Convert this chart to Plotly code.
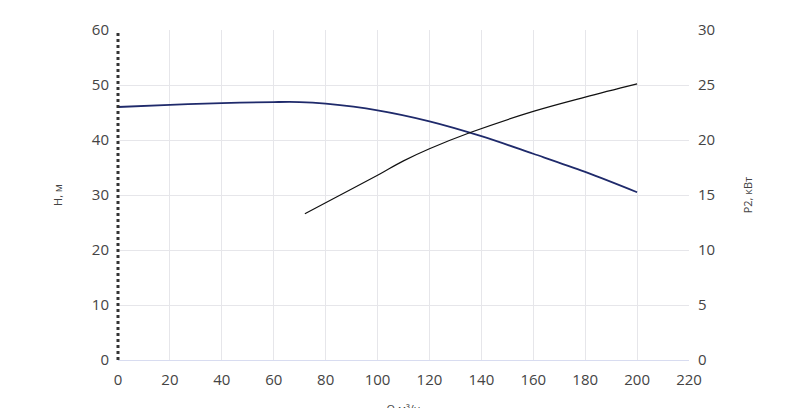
import plotly.graph_objs as go

q_h = [0, 20, 40, 60, 70, 80, 100, 120, 140, 160, 180, 200]
h_vals = [46, 46.4, 46.7, 46.9, 46.9, 46.6, 45.4, 43.4, 40.7, 37.5, 34.2, 30.5]

q_p = [72, 80, 100, 110, 120, 136, 160, 180, 200]
p_vals = [13.3, 14.3, 16.8, 18.1, 19.2, 20.7, 22.6, 23.9, 25.1]

fig = go.Figure()
fig.add_trace(go.Scatter(x=q_h, y=h_vals, mode='lines', line=dict(color='#1f2a6b', width=1.8, shape='spline'), yaxis='y'))
fig.add_trace(go.Scatter(x=q_p, y=p_vals, mode='lines', line=dict(color='#111111', width=1.2, shape='spline'), yaxis='y2'))

tick_font = dict(family='Open Sans', size=15, color='#444')
title_font = dict(family='Open Sans', size=11, color='#444')
fig.update_layout(
    width=800, height=408, showlegend=False,
    plot_bgcolor='white', paper_bgcolor='white',
    margin=dict(l=110, r=119, t=22, b=56),
    xaxis=dict(range=[0, 220], dtick=20, showgrid=True, gridcolor='#e6e6ea', zeroline=False,
               showline=True, linecolor='#d8dcf0', tickfont=tick_font, automargin=False,
               ticklabelstandoff=6,
               title=dict(text='Q м³/ч', font=title_font, standoff=22)),
    yaxis=dict(range=[0, 60], dtick=10, showgrid=True, gridcolor='#e6e6ea', zeroline=False,
               showline=False, tickfont=tick_font, automargin=False, ticklabelstandoff=8,
               title=dict(text='H, м', font=title_font, standoff=26)),
    yaxis2=dict(range=[0, 30], dtick=5, overlaying='y', side='right', showgrid=False, zeroline=False,
                tickfont=tick_font, automargin=False, ticklabelstandoff=8,
                title=dict(text='P2, кВт', font=title_font, standoff=30)),
)
fig.add_shape(type='line', xref='paper', yref='paper', x0=0, x1=0, y0=0, y1=1,
              line=dict(color='#333', width=3, dash='dot'))
fig.write_html("out.html")
